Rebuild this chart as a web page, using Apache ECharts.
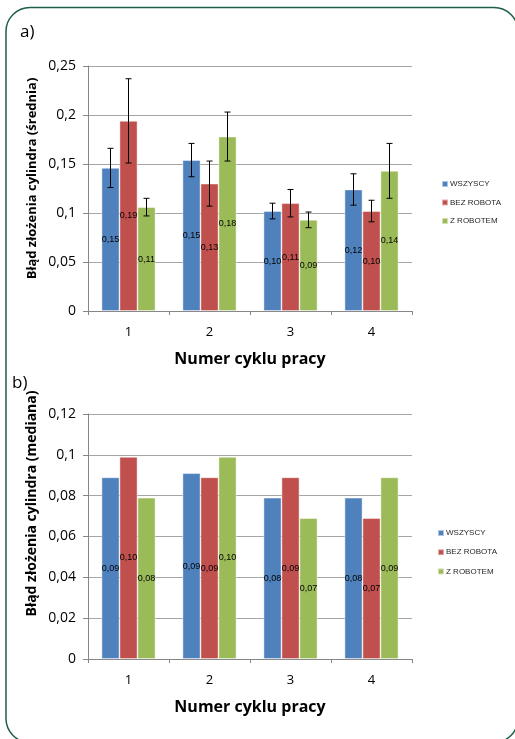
<!DOCTYPE html>
<html>
<head>
<meta charset="utf-8">
<script src="https://cdn.jsdelivr.net/npm/echarts@6/dist/echarts.min.js"></script>
<style>
html,body{margin:0;padding:0;background:#fff;}
#c{width:515px;height:739px;}
</style>
</head>
<body>
<div id="c"></div>
<script>
// ---- data ----
const categories = ['1', '2', '3', '4'];
const seriesNames = ['WSZYSCY', 'BEZ ROBOTA', 'Z ROBOTEM'];
// a) mean
const meanAll = [0.146, 0.154, 0.102, 0.124];
const meanNoRobot = [0.194, 0.130, 0.110, 0.102];
const meanRobot = [0.106, 0.178, 0.093, 0.143];
// a) error (half-width of error bar)
const errAll = [0.020, 0.017, 0.008, 0.016];
const errNoRobot = [0.043, 0.023, 0.014, 0.011];
const errRobot = [0.009, 0.025, 0.008, 0.028];
// b) median
const medAll = [0.089, 0.091, 0.079, 0.079];
const medNoRobot = [0.099, 0.089, 0.089, 0.069];
const medRobot = [0.079, 0.099, 0.069, 0.089];

const colors = ['#4F81BD', '#C0504D', '#9BBB59'];
const FONT = '"Open Sans", "Liberation Sans", sans-serif';
const BAR_W = 18;

const chart = echarts.init(document.getElementById('c'), null, {renderer: 'canvas'});

const fmtAxis = v => String(+v.toFixed(4)).replace('.', ',');
const fmtLabel = p => p.value.toFixed(2).replace('.', ',');

function xAx(gi) {
  return {
    type: 'category', gridIndex: gi, data: categories,
    name: 'Numer cyklu pracy', nameLocation: 'middle', nameGap: 40,
    nameTextStyle: {fontFamily: FONT, fontSize: 16, fontWeight: 'bold', color: '#000'},
    axisLine: {lineStyle: {color: '#868686', width: 1}},
    axisTick: {show: true, length: 4, lineStyle: {color: '#868686'}},
    axisLabel: {fontFamily: FONT, fontSize: 13, color: '#000', margin: 15}
  };
}
function yAx(gi, max, interval) {
  return {
    type: 'value', gridIndex: gi, min: 0, max: max, interval: interval,
    axisLine: {show: true, lineStyle: {color: '#868686', width: 1}},
    axisTick: {show: true, length: 5, lineStyle: {color: '#868686'}},
    splitLine: {lineStyle: {color: '#a6a6a6', width: 1}},
    axisLabel: {fontFamily: FONT, fontSize: 14, color: '#000', margin: 12, formatter: fmtAxis}
  };
}
function barSeries(name, data, idx, gi) {
  return {
    type: 'bar', name: name, data: data, xAxisIndex: gi, yAxisIndex: gi,
    barWidth: BAR_W, barGap: '0%',
    itemStyle: {color: colors[idx], borderColor: 'rgba(255,255,255,0.55)', borderWidth: 0.8},
    label: {show: true, position: 'inside', formatter: fmtLabel,
            fontFamily: '"Liberation Sans", sans-serif', fontSize: 9, color: '#000'}
  };
}
function errSeries(mean, err, idx) {
  const off = (idx - 1) * BAR_W;
  return {
    type: 'custom', name: seriesNames[idx] + ' err', xAxisIndex: 0, yAxisIndex: 0, z: 5,
    data: mean.map((m, i) => [i, m, err[i]]),
    encode: {x: 0, y: 1},
    renderItem: function (params, api) {
      const i = api.value(0), m = api.value(1), e = api.value(2);
      const x = api.coord([i, m])[0] + off;
      const yHi = api.coord([i, m + e])[1];
      const yLo = api.coord([i, m - e])[1];
      const st = {stroke: '#000', lineWidth: 1};
      return {type: 'group', children: [
        {type: 'line', shape: {x1: x, y1: yHi, x2: x, y2: yLo}, style: st},
        {type: 'line', shape: {x1: x - 3, y1: yHi, x2: x + 3, y2: yHi}, style: st},
        {type: 'line', shape: {x1: x - 3, y1: yLo, x2: x + 3, y2: yLo}, style: st}
      ]};
    },
    silent: true, tooltip: {show: false}
  };
}
function legend(top, left, gap) {
  return {
    orient: 'vertical', left: left, top: top, data: seriesNames,
    icon: 'rect', itemWidth: 6, itemHeight: 6, itemGap: gap,
    textStyle: {fontFamily: '"Liberation Sans", sans-serif', fontSize: 8, color: '#262626', lineHeight: 10, padding: [0, 0, 0, -3]}
  };
}

const option = {
  backgroundColor: '#fff',
  animation: false,
  grid: [
    {left: 88, right: 103, top: 66, height: 245},
    {left: 88, right: 103, top: 414, height: 245}
  ],
  xAxis: [xAx(0), xAx(1)],
  yAxis: [yAx(0, 0.25, 0.05), yAx(1, 0.12, 0.02)],
  legend: [legend(174, 436, 8.5), legend(523, 432, 9.2)],
  series: [
    barSeries(seriesNames[0], meanAll, 0, 0),
    barSeries(seriesNames[1], meanNoRobot, 1, 0),
    barSeries(seriesNames[2], meanRobot, 2, 0),
    errSeries(meanAll, errAll, 0),
    errSeries(meanNoRobot, errNoRobot, 1),
    errSeries(meanRobot, errRobot, 2),
    barSeries(seriesNames[0], medAll, 0, 1),
    barSeries(seriesNames[1], medNoRobot, 1, 1),
    barSeries(seriesNames[2], medRobot, 2, 1)
  ],
  graphic: [
    {type: 'rect', shape: {x: 6, y: 7.5, width: 512, height: 735, r: 24},
     style: {fill: 'none', stroke: '#1f5f45', lineWidth: 1.5}, z: 100, silent: true},
    {type: 'text', left: 20, top: 24, style: {text: 'a)', fontFamily: FONT, fontSize: 17, fill: '#000'}},
    {type: 'text', left: 12, top: 375, style: {text: 'b)', fontFamily: FONT, fontSize: 17, fill: '#000'}},
    {type: 'text', x: 32, y: 178.5, rotation: Math.PI / 2,
     style: {text: 'Błąd złożenia cylindra (średnia)', fontFamily: FONT, fontSize: 13, fontWeight: 'bold',
             fill: '#000', align: 'center', verticalAlign: 'middle'}},
    {type: 'text', x: 32, y: 503.5, rotation: Math.PI / 2,
     style: {text: 'Błąd złożenia cylindra (mediana)', fontFamily: FONT, fontSize: 14, fontWeight: 'bold',
             fill: '#000', align: 'center', verticalAlign: 'middle'}}
  ]
};
chart.setOption(option);
</script>
</body>
</html>
